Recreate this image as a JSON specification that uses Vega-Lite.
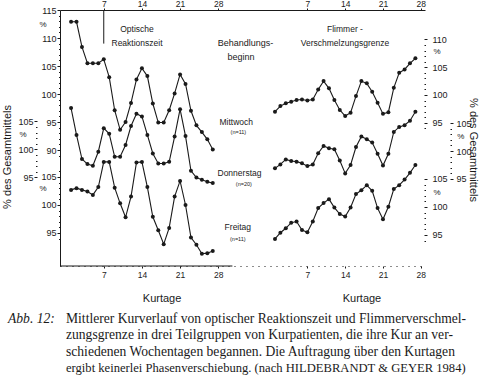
{
  "$schema": "https://vega.github.io/schema/vega-lite/v6.json",
  "width": 365,
  "height": 256,
  "autosize": {"type": "none"},
  "padding": {"left": 60, "top": 10, "right": 55, "bottom": 121},
  "background": "white",
  "config": {
    "view": {"stroke": null},
    "axis": {"grid": false, "labelFont": "Liberation Sans", "labelFontSize": 9, "labelColor": "#1a1a1a", "tickColor": "#1a1a1a", "domainColor": "#1a1a1a", "labelOverlap": false, "labelFlush": false},
    "text": {"font": "Liberation Sans", "color": "#1a1a1a"},
    "line": {"color": "#1a1a1a", "strokeWidth": 1.1},
    "point": {"color": "#1a1a1a", "filled": true, "size": 16, "opacity": 1}
  },
  "layer": [
    {
      "data": {"values": [
        {"day": 1, "value": 112.9}, {"day": 2, "value": 112.9}, {"day": 3, "value": 108.4}, {"day": 4, "value": 105.5}, {"day": 5, "value": 105.5}, {"day": 6, "value": 105.5}, {"day": 7, "value": 106.2}, {"day": 8, "value": 103.0}, {"day": 9, "value": 97.1}, {"day": 10, "value": 93.6}, {"day": 11, "value": 95.0}, {"day": 12, "value": 98.4}, {"day": 13, "value": 102.6}, {"day": 14, "value": 104.6}, {"day": 15, "value": 103.2}, {"day": 16, "value": 98.3}, {"day": 17, "value": 94.9}, {"day": 18, "value": 94.9}, {"day": 19, "value": 97.1}, {"day": 20, "value": 100.1}, {"day": 21, "value": 103.5}, {"day": 22, "value": 101.8}, {"day": 23, "value": 97.0}, {"day": 24, "value": 94.4}, {"day": 25, "value": 93.2}, {"day": 26, "value": 91.9}, {"day": 27, "value": 90.1}
      ]},
      "layer": [
        {
          "mark": "line",
          "encoding": {
            "x": {"field": "day", "type": "quantitative", "scale": {"domain": [-1.03, 65.94], "nice": false, "zero": false},
              "axis": {"orient": "top", "values": [7, 14, 21, 28], "tickCount": 100, "format": "d", "domain": true, "tickSize": 2, "labelPadding": 0, "labelFontSize": 8.5, "labelOverlap": false, "labelFlush": false, "title": null}},
            "y": {"field": "value", "type": "quantitative", "scale": {"domain": [69.286, 115], "nice": false, "zero": false},
              "axis": {"orient": "left", "offset": 0, "domain": true, "values": [89,90,91,92,93,94,95,96,97,98,99,100,101,102,103,104,105,106,107,108,109,110,111,112,113,114,115], "tickCount": 100, "format": "d",
                "labelExpr": "datum.value % 5 === 0 ? datum.label : ''", "tickSize": {"condition": {"test": "datum.value % 5 === 0", "value": 3}, "value": 1.5}, "labelPadding": 1, "labelOverlap": false, "labelBound": false, "title": null}}
          }
        },
        {"mark": "point", "encoding": {"x": {"field": "day", "type": "quantitative"}, "y": {"field": "value", "type": "quantitative"}}},
        {"data": {"values": [{}]}, "mark": {"type": "rule", "strokeWidth": 1, "color": "#1a1a1a"},
          "encoding": {"x": {"datum": 7}, "y": {"datum": 115}, "y2": {"datum": 109}}},
        {"data": {"values": [{}]}, "mark": {"type": "text", "fontSize": 8.5, "align": "center", "baseline": "middle"},
          "encoding": {"x": {"datum": 13.1}, "y": {"datum": 111.6}, "text": {"value": "Optische"}}},
        {"data": {"values": [{}]}, "mark": {"type": "text", "fontSize": 8.5, "align": "center", "baseline": "middle"},
          "encoding": {"x": {"datum": 13.1}, "y": {"datum": 109.1}, "text": {"value": "Reaktionszeit"}}},
        {"data": {"values": [{}]}, "mark": {"type": "text", "fontSize": 9, "align": "center", "baseline": "middle"},
          "encoding": {"x": {"datum": 33.0}, "y": {"datum": 109.1}, "text": {"value": "Behandlungs-"}}},
        {"data": {"values": [{}]}, "mark": {"type": "text", "fontSize": 9, "align": "center", "baseline": "middle"},
          "encoding": {"x": {"datum": 32.2}, "y": {"datum": 106.6}, "text": {"value": "beginn"}}},
        {"data": {"values": [{}]}, "mark": {"type": "text", "fontSize": 8.5, "align": "center", "baseline": "middle"},
          "encoding": {"x": {"datum": 31.3}, "y": {"datum": 95.0}, "text": {"value": "Mittwoch"}}},
        {"data": {"values": [{}]}, "mark": {"type": "text", "fontSize": 5.5, "align": "center", "baseline": "middle"},
          "encoding": {"x": {"datum": 31.7}, "y": {"datum": 93.3}, "text": {"value": "(n=11)"}}},
        {"data": {"values": [{}]}, "mark": {"type": "text", "fontSize": 8, "align": "center", "baseline": "middle"},
          "encoding": {"x": {"datum": -4.15}, "y": {"datum": 112.3}, "text": {"value": "%"}}},
        {"data": {"values": [{}]}, "mark": {"type": "text", "fontSize": 11, "align": "center", "baseline": "middle", "angle": 270},
          "encoding": {"x": {"datum": -10.57}, "y": {"datum": 88.75}, "text": {"value": "% des Gesamtmittels"}}}
      ]
    },
    {
      "data": {"values": [
        {"day": 1, "value": 107.4}, {"day": 2, "value": 102.6}, {"day": 3, "value": 98.3}, {"day": 4, "value": 97.4}, {"day": 5, "value": 97.1}, {"day": 6, "value": 99.6}, {"day": 7, "value": 103.8}, {"day": 8, "value": 102.8}, {"day": 9, "value": 98.7}, {"day": 10, "value": 98.7}, {"day": 11, "value": 100.8}, {"day": 12, "value": 104.2}, {"day": 13, "value": 106.4}, {"day": 14, "value": 105.9}, {"day": 15, "value": 102.6}, {"day": 16, "value": 99.3}, {"day": 17, "value": 97.5}, {"day": 18, "value": 97.5}, {"day": 19, "value": 97.8}, {"day": 20, "value": 102.3}, {"day": 21, "value": 107.2}, {"day": 22, "value": 102.4}, {"day": 23, "value": 96.2}, {"day": 24, "value": 95.0}, {"day": 25, "value": 94.6}, {"day": 26, "value": 94.25}, {"day": 27, "value": 94.0}
      ]},
      "layer": [
        {
          "mark": "line",
          "encoding": {
            "x": {"field": "day", "type": "quantitative", "scale": {"domain": [-1.03, 65.94], "nice": false, "zero": false}, "axis": null},
            "y": {"field": "value", "type": "quantitative", "scale": {"domain": [79.196, 124.911], "nice": false, "zero": false},
              "axis": {"orient": "left", "offset": 23, "domain": false, "values": [95,96,97,98,99,100,101,102,103,104,105], "tickCount": 100, "format": "d",
                "labelExpr": "datum.value % 5 === 0 ? datum.label : ''", "tickSize": {"condition": {"test": "datum.value % 5 === 0", "value": 3}, "value": 1.5}, "labelPadding": 1, "labelOverlap": false, "labelBound": false, "title": null}}
          }
        },
        {"mark": "point", "encoding": {"x": {"field": "day", "type": "quantitative", "axis": null}, "y": {"field": "value", "type": "quantitative"}}},
        {"data": {"values": [{}]}, "mark": {"type": "text", "fontSize": 8.5, "align": "center", "baseline": "middle"},
          "encoding": {"x": {"datum": 31.9, "axis": null}, "y": {"datum": 95.8}, "text": {"value": "Donnerstag"}}},
        {"data": {"values": [{}]}, "mark": {"type": "text", "fontSize": 5.5, "align": "center", "baseline": "middle"},
          "encoding": {"x": {"datum": 32.7, "axis": null}, "y": {"datum": 93.9}, "text": {"value": "(n=20)"}}},
        {"data": {"values": [{}]}, "mark": {"type": "text", "fontSize": 8, "align": "center", "baseline": "middle"},
          "encoding": {"x": {"datum": -7.8, "axis": null}, "y": {"datum": 102.6}, "text": {"value": "%"}}}
      ]
    },
    {
      "data": {"values": [
        {"day": 1, "value": 102.7}, {"day": 2, "value": 103.0}, {"day": 3, "value": 102.7}, {"day": 4, "value": 102.4}, {"day": 5, "value": 101.8}, {"day": 6, "value": 103.2}, {"day": 7, "value": 107.7}, {"day": 8, "value": 107.7}, {"day": 9, "value": 103.1}, {"day": 10, "value": 100.3}, {"day": 11, "value": 97.8}, {"day": 12, "value": 101.5}, {"day": 13, "value": 107.6}, {"day": 14, "value": 107.7}, {"day": 15, "value": 103.2}, {"day": 16, "value": 97.9}, {"day": 17, "value": 95.5}, {"day": 18, "value": 93.0}, {"day": 19, "value": 95.9}, {"day": 20, "value": 101.5}, {"day": 21, "value": 104.3}, {"day": 22, "value": 100.0}, {"day": 23, "value": 94.2}, {"day": 24, "value": 92.9}, {"day": 25, "value": 91.3}, {"day": 26, "value": 91.4}, {"day": 27, "value": 91.8}
      ]},
      "layer": [
        {
          "mark": "line",
          "encoding": {
            "x": {"field": "day", "type": "quantitative", "scale": {"domain": [-1.03, 65.94], "nice": false, "zero": false},
              "axis": {"orient": "bottom", "values": [7, 14, 21, 28], "tickCount": 100, "format": "d", "domain": false, "tickSize": 2, "labelPadding": 2, "labelFontSize": 8.5, "labelOverlap": false, "labelFlush": false, "title": null}},
            "y": {"field": "value", "type": "quantitative", "scale": {"domain": [89.107, 134.821], "nice": false, "zero": false},
              "axis": {"orient": "left", "offset": 0, "domain": false, "values": [94,95,96,97,98,99,100,101,102,103,104,105,106], "tickCount": 100, "format": "d",
                "labelExpr": "datum.value % 5 === 0 ? datum.label : ''", "tickSize": {"condition": {"test": "datum.value % 5 === 0", "value": 3}, "value": 1.5}, "labelPadding": 1, "labelOverlap": false, "labelBound": false, "title": null}}
          }
        },
        {"mark": "point", "encoding": {"x": {"field": "day", "type": "quantitative"}, "y": {"field": "value", "type": "quantitative"}}},
        {"data": {"values": [{}]}, "mark": {"type": "rule", "strokeWidth": 1, "color": "#1a1a1a"},
          "encoding": {"x": {"datum": -1.03}, "x2": {"datum": 30.6}, "y": {"datum": 89.107}}},
        {"data": {"values": [{}]}, "mark": {"type": "text", "fontSize": 8.5, "align": "center", "baseline": "middle"},
          "encoding": {"x": {"datum": 31.6}, "y": {"datum": 96.07}, "text": {"value": "Freitag"}}},
        {"data": {"values": [{}]}, "mark": {"type": "text", "fontSize": 5.5, "align": "center", "baseline": "middle"},
          "encoding": {"x": {"datum": 31.6}, "y": {"datum": 93.93}, "text": {"value": "(n=11)"}}},
        {"data": {"values": [{}]}, "mark": {"type": "text", "fontSize": 8, "align": "center", "baseline": "middle"},
          "encoding": {"x": {"datum": -4.15}, "y": {"datum": 102.86}, "text": {"value": "%"}}},
        {"data": {"values": [{}]}, "mark": {"type": "text", "fontSize": 11, "align": "center", "baseline": "middle"},
          "encoding": {"x": {"datum": 17.7}, "y": {"datum": 83.21}, "text": {"value": "Kurtage"}}},
        {"data": {"values": [{}]}, "mark": {"type": "text", "font": "Liberation Serif", "fontSize": 13.6, "fontStyle": "italic", "align": "left", "baseline": "alphabetic"},
          "encoding": {"x": {"datum": -10.57}, "y": {"datum": 79.0}, "text": {"value": "Abb. 12:"}}},
        {"data": {"values": [{}]}, "mark": {"type": "text", "font": "Liberation Serif", "fontSize": 13.6, "align": "left", "baseline": "alphabetic"},
          "encoding": {"x": {"datum": 0.07}, "y": {"datum": 79.0}, "text": {"value": "Mittlerer Kurverlauf von optischer Reaktionszeit und Flimmerverschmel-"}}},
        {"data": {"values": [{}]}, "mark": {"type": "text", "font": "Liberation Serif", "fontSize": 13.6, "align": "left", "baseline": "alphabetic"},
          "encoding": {"x": {"datum": 0.07}, "y": {"datum": 76.0}, "text": {"value": "zungsgrenze in drei Teilgruppen von Kurpatienten, die ihre Kur an ver-"}}},
        {"data": {"values": [{}]}, "mark": {"type": "text", "font": "Liberation Serif", "fontSize": 13.6, "align": "left", "baseline": "alphabetic"},
          "encoding": {"x": {"datum": 0.07}, "y": {"datum": 73.1}, "text": {"value": "schiedenen Wochentagen begannen. Die Auftragung über den Kurtagen"}}},
        {"data": {"values": [{}]}, "mark": {"type": "text", "font": "Liberation Serif", "fontSize": 12.6, "align": "left", "baseline": "alphabetic"},
          "encoding": {"x": {"datum": 0.07}, "y": {"datum": 70.2}, "text": {"value": "ergibt keinerlei Phasenverschiebung. (nach HILDEBRANDT & GEYER 1984)"}}}
      ]
    },
    {
      "data": {"values": [
        {"day": 1, "value": 97.0}, {"day": 2, "value": 98.0}, {"day": 3, "value": 98.5}, {"day": 4, "value": 98.8}, {"day": 5, "value": 99.1}, {"day": 6, "value": 99.2}, {"day": 7, "value": 99.0}, {"day": 8, "value": 99.2}, {"day": 9, "value": 101.0}, {"day": 10, "value": 102.5}, {"day": 11, "value": 101.2}, {"day": 12, "value": 99.1}, {"day": 13, "value": 97.3}, {"day": 14, "value": 96.2}, {"day": 15, "value": 96.8}, {"day": 16, "value": 99.8}, {"day": 17, "value": 102.5}, {"day": 18, "value": 102.1}, {"day": 19, "value": 100.6}, {"day": 20, "value": 98.6}, {"day": 21, "value": 96.6}, {"day": 22, "value": 96.9}, {"day": 23, "value": 101.3}, {"day": 24, "value": 104.0}, {"day": 25, "value": 104.6}, {"day": 26, "value": 105.7}, {"day": 27, "value": 106.6}
      ]},
      "layer": [
        {
          "mark": "line",
          "encoding": {
            "x": {"field": "day", "type": "quantitative", "scale": {"domain": [-38.81, 28.78], "nice": false, "zero": false},
              "axis": {"orient": "top", "values": [7, 14, 21, 28], "tickCount": 100, "format": "d", "domain": false, "tickSize": 2, "labelPadding": 0, "labelFontSize": 8.5, "labelOverlap": false, "labelFlush": false, "title": null}},
            "y": {"field": "value", "type": "quantitative", "scale": {"domain": [69.189, 115.315], "nice": false, "zero": false},
              "axis": {"orient": "right", "offset": -1, "domain": false, "values": [94,95,96,97,98,99,100,101,102,103,104,105,106,107,108,109,110], "tickCount": 100, "format": "d",
                "labelExpr": "datum.value % 5 === 0 ? datum.label : ''", "tickSize": {"condition": {"test": "datum.value % 5 === 0", "value": 3}, "value": 1.5}, "labelPadding": 5, "labelOverlap": false, "labelBound": false, "title": null}}
          }
        },
        {"mark": "point", "encoding": {"x": {"field": "day", "type": "quantitative"}, "y": {"field": "value", "type": "quantitative"}}},
        {"data": {"values": [{}]}, "mark": {"type": "text", "fontSize": 8.5, "align": "center", "baseline": "middle"},
          "encoding": {"x": {"datum": 13.96}, "y": {"datum": 111.9}, "text": {"value": "Flimmer -"}}},
        {"data": {"values": [{}]}, "mark": {"type": "text", "fontSize": 8.5, "align": "center", "baseline": "middle"},
          "encoding": {"x": {"datum": 13.96}, "y": {"datum": 109.37}, "text": {"value": "Verschmelzungsgrenze"}}},
        {"data": {"values": [{}]}, "mark": {"type": "text", "fontSize": 8, "align": "center", "baseline": "middle"},
          "encoding": {"x": {"datum": 31.0}, "y": {"datum": 107.75}, "text": {"value": "%"}}},
        {"data": {"values": [{}]}, "mark": {"type": "text", "fontSize": 11, "align": "center", "baseline": "middle", "angle": 90},
          "encoding": {"x": {"datum": 37.67}, "y": {"datum": 90.09}, "text": {"value": "% des Gesamtmittels"}}}
      ]
    },
    {
      "data": {"values": [
        {"day": 1, "value": 96.9}, {"day": 2, "value": 97.6}, {"day": 3, "value": 98.5}, {"day": 4, "value": 98.2}, {"day": 5, "value": 98.1}, {"day": 6, "value": 97.8}, {"day": 7, "value": 97.3}, {"day": 8, "value": 97.6}, {"day": 9, "value": 99.6}, {"day": 10, "value": 100.9}, {"day": 11, "value": 100.5}, {"day": 12, "value": 100.3}, {"day": 13, "value": 98.3}, {"day": 14, "value": 96.0}, {"day": 15, "value": 97.5}, {"day": 16, "value": 100.7}, {"day": 17, "value": 102.6}, {"day": 18, "value": 102.1}, {"day": 19, "value": 101.5}, {"day": 20, "value": 99.5}, {"day": 21, "value": 97.4}, {"day": 22, "value": 99.5}, {"day": 23, "value": 103.4}, {"day": 24, "value": 104.3}, {"day": 25, "value": 104.6}, {"day": 26, "value": 105.4}, {"day": 27, "value": 107.0}
      ]},
      "layer": [
        {
          "mark": "line",
          "encoding": {
            "x": {"field": "day", "type": "quantitative", "scale": {"domain": [-38.81, 28.78], "nice": false, "zero": false}, "axis": null},
            "y": {"field": "value", "type": "quantitative", "scale": {"domain": [79.464, 125.179], "nice": false, "zero": false},
              "axis": {"orient": "right", "offset": 25, "domain": false, "values": [95,96,97,98,99,100,101,102,103,104,105], "tickCount": 100, "format": "d",
                "labelExpr": "datum.value % 5 === 0 ? datum.label : ''", "tickSize": {"condition": {"test": "datum.value % 5 === 0", "value": 3}, "value": 1.5}, "labelPadding": 3, "labelOverlap": false, "labelBound": false, "title": null}}
          }
        },
        {"mark": "point", "encoding": {"x": {"field": "day", "type": "quantitative", "axis": null}, "y": {"field": "value", "type": "quantitative"}}},
        {"data": {"values": [{}]}, "mark": {"type": "text", "fontSize": 8, "align": "center", "baseline": "middle"},
          "encoding": {"x": {"datum": 35.4, "axis": null}, "y": {"datum": 102.5}, "text": {"value": "%"}}}
      ]
    },
    {
      "data": {"values": [
        {"day": 1, "value": 94.3}, {"day": 2, "value": 95.4}, {"day": 3, "value": 96.2}, {"day": 4, "value": 97.2}, {"day": 5, "value": 97.4}, {"day": 6, "value": 95.9}, {"day": 7, "value": 95.5}, {"day": 8, "value": 97.4}, {"day": 9, "value": 99.8}, {"day": 10, "value": 100.7}, {"day": 11, "value": 101.4}, {"day": 12, "value": 99.9}, {"day": 13, "value": 98.75}, {"day": 14, "value": 98.3}, {"day": 15, "value": 99.9}, {"day": 16, "value": 102.3}, {"day": 17, "value": 103.0}, {"day": 18, "value": 103.9}, {"day": 19, "value": 102.9}, {"day": 20, "value": 99.8}, {"day": 21, "value": 97.8}, {"day": 22, "value": 100.05}, {"day": 23, "value": 103.2}, {"day": 24, "value": 103.9}, {"day": 25, "value": 104.9}, {"day": 26, "value": 106.1}, {"day": 27, "value": 107.5}
      ]},
      "layer": [
        {
          "mark": "line",
          "encoding": {
            "x": {"field": "day", "type": "quantitative", "scale": {"domain": [-38.81, 28.78], "nice": false, "zero": false},
              "axis": {"orient": "bottom", "values": [7, 14, 21, 28], "tickCount": 100, "format": "d", "domain": true, "domainDash": [1, 5], "tickSize": 2, "labelPadding": 2, "labelFontSize": 8.5, "labelOverlap": false, "labelFlush": false, "title": null}},
            "y": {"field": "value", "type": "quantitative", "scale": {"domain": [89.464, 135.179], "nice": false, "zero": false},
              "axis": {"orient": "right", "offset": -1, "domain": false, "values": [94,95,96,97,98,99,100,101,102,103,104,105], "tickCount": 100, "format": "d",
                "labelExpr": "datum.value % 5 === 0 ? datum.label : ''", "tickSize": {"condition": {"test": "datum.value % 5 === 0", "value": 3}, "value": 1.5}, "labelPadding": 5, "labelOverlap": false, "labelBound": false, "title": null}}
          }
        },
        {"mark": "point", "encoding": {"x": {"field": "day", "type": "quantitative"}, "y": {"field": "value", "type": "quantitative"}}},
        {"data": {"values": [{}]}, "mark": {"type": "text", "fontSize": 8, "align": "center", "baseline": "middle"},
          "encoding": {"x": {"datum": 31.0}, "y": {"datum": 102.5}, "text": {"value": "%"}}},
        {"data": {"values": [{}]}, "mark": {"type": "text", "fontSize": 11, "align": "center", "baseline": "middle"},
          "encoding": {"x": {"datum": 17.11}, "y": {"datum": 83.57}, "text": {"value": "Kurtage"}}}
      ]
    }
  ],
  "resolve": {"scale": {"x": "independent", "y": "independent"}, "axis": {"x": "independent", "y": "independent"}}
}
